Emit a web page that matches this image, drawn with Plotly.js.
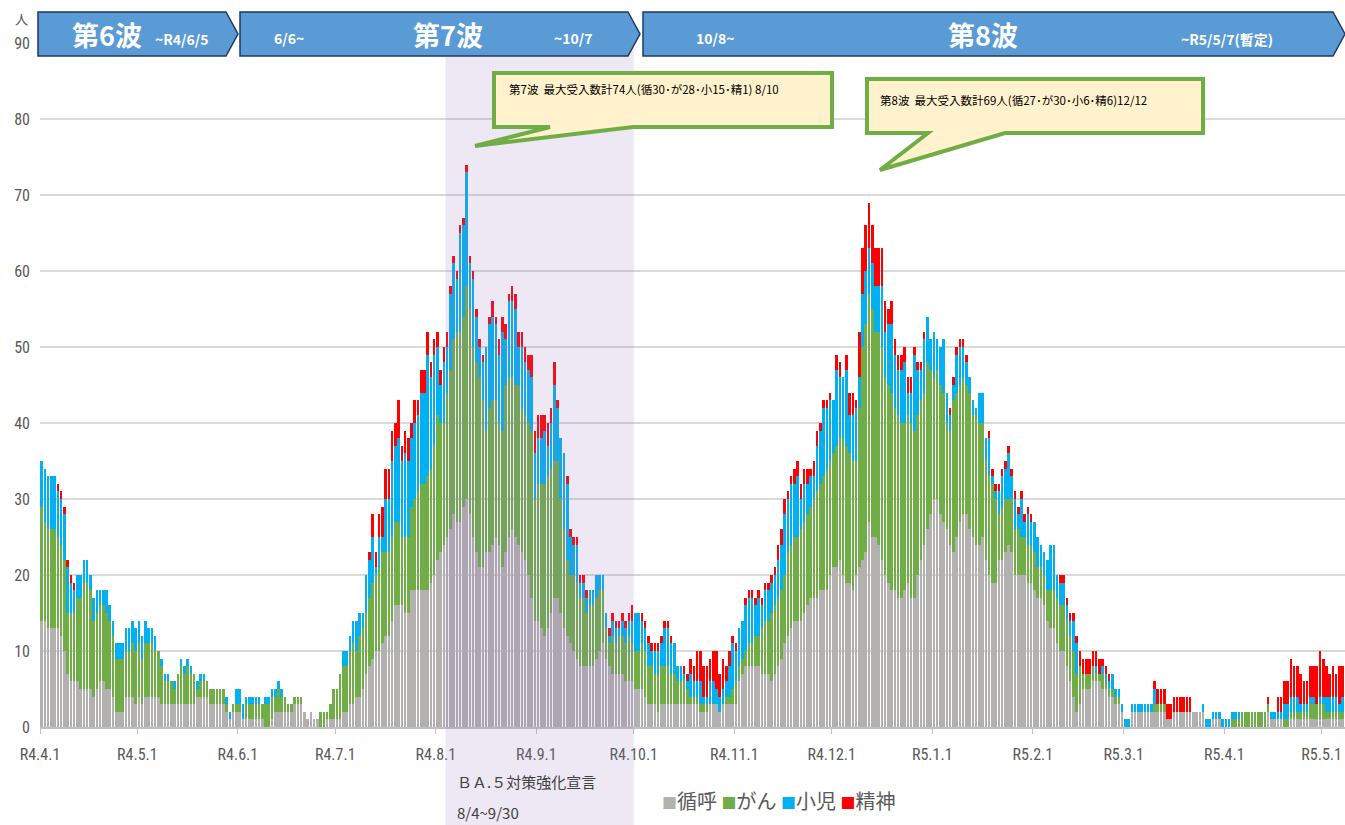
<!DOCTYPE html>
<html>
<head>
<meta charset="utf-8">
<script src="https://cdn.plot.ly/plotly-3.0.1.min.js"></script>
<style>
html,body{margin:0;padding:0;background:#fff;}
#chart{width:1345px;height:825px;}
</style>
</head>
<body>
<div id="chart"></div>
<script>
// ---------------- data ----------------
const startDate = '2022-04-01';

// 循呼
const junko = [
14,14,13,13,13,13,12,10,7,6,
6,6,5,5,5,5,4,5,6,6,
5,5,4,2,2,2,4,4,4,3,
4,3,4,4,4,4,4,3,3,3,
3,3,3,3,3,3,3,3,4,4,
4,4,3,3,3,3,3,2,1,2,
2,2,1,1,1,1,1,1,1,0,
0,1,2,2,2,2,2,2,3,3,
3,2,1,2,1,1,0,0,1,1,
1,1,1,2,2,3,3,4,4,5,
7,8,9,10,10,11,12,12,14,16,
16,16,15,15,18,18,18,18,18,18,
19,20,22,23,24,25,26,28,27,27,
29,30,28,25,23,21,21,23,23,24,
25,24,21,23,25,26,25,24,23,22,
20,17,14,14,13,12,13,15,17,17,
15,13,12,11,10,9,8,8,8,8,
8,9,10,11,9,8,7,7,7,7,
6,6,6,5,5,5,4,3,3,3,
2,3,3,3,3,3,3,3,3,3,
3,3,3,2,2,2,3,3,3,2,
3,3,3,3,3,6,7,8,8,8,
8,8,7,7,7,6,7,8,9,11,
12,13,14,14,14,15,16,17,17,17,
18,18,18,20,21,21,22,20,19,19,
18,20,21,22,23,27,25,25,24,22,
20,19,18,18,17,17,18,19,17,17,
20,22,24,26,28,30,30,28,27,26,
24,23,25,27,28,28,26,25,24,24,
25,22,20,19,19,22,22,23,24,23,
20,20,20,20,19,19,18,17,17,16,
14,13,13,11,10,10,8,6,4,2,
3,5,5,5,6,6,6,5,5,4,
4,3,3,2,0,0,2,2,2,2,
2,2,2,2,2,2,2,1,1,2,
2,2,2,2,2,2,2,2,2,0,
0,1,1,1,0,0,0,0,0,0,
0,0,0,0,0,0,0,0,2,1,
1,1,1,0,0,1,1,1,1,1,
1,1,1,1,1,1,1,1,1,1,
1,1];

// がん
const gan = [
15,13,13,13,13,12,12,12,8,9,
9,11,12,14,14,13,10,10,10,10,
10,9,8,7,7,7,6,6,7,7,
7,6,7,7,7,6,6,5,3,3,
3,2,4,5,4,5,4,4,1,2,
2,2,2,2,2,2,2,1,0,1,
1,1,0,2,2,2,2,2,2,3,
3,3,2,3,2,2,1,1,1,1,
1,0,0,0,0,0,2,2,1,2,
4,4,6,6,6,7,8,6,8,8,
8,9,10,10,11,12,11,11,11,11,
11,9,10,10,11,12,13,14,14,15,
15,17,19,17,16,19,21,23,25,25,
25,28,27,25,25,25,22,16,19,19,
18,16,18,22,21,20,20,21,19,19,
20,22,16,18,19,20,20,19,18,18,
15,13,10,9,10,10,9,9,7,8,
8,8,8,7,4,3,5,4,5,5,
5,6,5,5,5,6,6,5,5,4,
5,5,5,5,4,4,3,3,3,2,
1,1,1,1,1,1,0,0,0,0,
0,1,1,2,3,2,2,2,3,3,
4,4,6,7,7,9,9,9,9,9,
11,11,11,11,12,12,12,12,13,14,
14,15,16,15,15,16,16,18,18,17,
17,15,21,28,30,30,30,27,28,28,
26,26,26,24,24,23,22,22,23,22,
21,21,20,22,19,16,17,17,17,14,
15,20,19,18,18,17,18,16,17,16,
15,13,13,13,11,6,7,7,6,7,
6,6,5,5,5,5,5,4,4,4,
4,5,5,6,6,6,6,6,6,5,
5,2,2,2,2,1,1,2,1,1,
1,1,1,0,0,0,0,0,0,0,
0,0,0,1,1,1,1,0,0,0,
0,0,0,0,0,0,0,0,0,0,
0,0,0,0,0,0,0,1,1,1,
2,2,2,2,2,2,2,2,1,0,
0,0,0,1,1,1,1,1,1,1,
1,2,2,2,2,2,1,1,1,1,
1,1];

// 小児
const shoni = [
6,7,7,7,7,6,6,6,6,4,
3,3,3,3,3,2,3,3,2,2,
3,2,2,2,2,2,3,3,3,3,
3,3,3,2,2,2,0,1,1,1,
0,1,0,1,1,1,1,0,1,1,
1,0,0,0,0,0,0,1,1,0,
2,2,2,1,1,1,1,1,0,1,
1,1,1,1,1,0,0,0,0,0,
0,0,0,0,0,0,0,0,0,0,
0,0,0,2,2,2,3,4,3,2,
5,5,6,1,4,2,7,7,10,10,
11,10,11,10,9,10,10,12,12,16,
12,12,9,5,8,6,10,10,7,13,
12,15,6,9,6,4,5,11,11,11,
10,9,13,6,10,10,10,5,8,7,
7,7,6,6,6,7,4,6,10,7,
8,10,10,5,4,5,2,2,2,2,
2,3,2,2,2,1,2,2,1,2,
2,2,3,5,5,3,3,3,2,3,
3,3,5,5,4,4,2,2,1,1,
3,2,2,3,1,1,3,3,2,2,
2,2,4,6,4,5,5,6,6,6,
4,5,3,4,4,4,4,5,6,8,
7,8,7,8,4,5,4,4,3,6,
7,9,8,8,7,10,8,8,10,5,
6,7,4,7,7,6,6,6,6,8,
6,8,9,7,6,7,8,3,4,10,
6,4,7,6,4,6,4,5,7,4,
2,2,5,5,4,3,2,2,1,4,
4,3,5,1,1,3,4,4,6,3,
4,2,5,2,4,3,4,4,3,3,
4,6,6,3,3,3,2,2,4,4,
0,0,0,0,0,1,0,1,1,1,
2,1,1,1,1,1,1,1,1,1,
1,1,1,2,0,0,0,0,0,0,
0,0,0,0,0,0,0,0,1,1,
1,1,1,1,1,1,1,1,1,1,
0,0,0,0,0,0,0,0,0,1,
1,1,1,2,2,2,2,2,1,1,
1,1,1,0,1,1,2,2,2,2,
1,2];

// 精神
const seishin = [
0,0,0,0,0,1,1,1,1,1,
1,0,0,0,0,0,0,0,0,0,
0,0,0,0,0,0,0,0,0,0,
0,0,0,0,0,0,0,0,0,0,
0,0,0,0,0,0,0,0,0,0,
0,0,0,0,0,0,0,0,0,0,
0,0,0,0,0,0,0,0,0,0,
0,0,0,0,0,0,0,0,0,0,
0,0,0,0,0,0,0,0,0,0,
0,0,0,0,0,0,0,0,0,0,
0,1,3,2,3,4,4,4,4,3,
5,2,3,3,2,3,2,3,3,3,
2,2,2,2,2,2,1,1,1,1,
1,1,1,1,1,1,1,0,1,2,
1,2,2,2,1,2,2,2,2,2,
2,3,3,3,3,2,3,2,3,1,
0,0,1,1,1,1,1,1,1,0,
0,0,0,0,0,1,1,1,1,1,
1,1,2,0,0,1,1,1,1,1,
1,1,1,1,1,0,0,0,1,1,
2,2,4,4,4,4,3,4,5,3,
4,2,2,1,1,0,0,1,1,1,
1,1,1,1,1,1,1,2,2,2,
1,1,2,2,2,2,2,1,2,2,
1,1,1,1,0,2,2,0,2,3,
3,1,6,6,6,6,5,5,5,5,
4,2,3,2,2,2,2,2,2,1,
1,1,1,0,0,0,0,0,0,0,
1,1,1,1,1,1,0,0,0,0,
0,0,1,1,1,1,1,1,1,1,
1,1,1,1,1,1,0,0,0,0,
0,0,0,0,1,1,1,1,1,1,
2,2,2,2,2,2,2,1,1,1,
0,0,0,0,0,0,0,0,0,0,
0,0,0,1,2,2,2,2,2,2,
2,2,2,2,2,0,0,0,0,0,
0,0,0,0,0,0,0,0,0,0,
0,0,0,0,0,0,0,0,1,0,
0,2,2,3,3,5,4,4,4,3,
3,4,4,5,6,5,4,3,4,3,
5,4];

const seriesNames = ['循呼', 'がん', '小児', '精神'];
const seriesColors = ['#B3B0B0', '#70AD47', '#00B0F0', '#FF0000'];

const tickDates = ['2022-04-01','2022-05-01','2022-06-01','2022-07-01','2022-08-01','2022-09-01',
  '2022-10-01','2022-11-01','2022-12-01','2023-01-01','2023-02-01','2023-03-01','2023-04-01','2023-05-01'];
const tickLabels = ['R4.4.1','R4.5.1','R4.6.1','R4.7.1','R4.8.1','R4.9.1','R4.10.1','R4.11.1',
  'R4.12.1','R5.1.1','R5.2.1','R5.3.1','R5.4.1','R5.5.1'];
const yTicks = [0,10,20,30,40,50,60,70,80,90];

const declStart = '2022-08-04';
const declEnd = '2022-10-01';

const waveTexts = [
  ['第6波', '~R4/6/5'],
  ['6/6~', '第7波', '~10/7'],
  ['10/8~', '第8波', '~R5/5/7(暫定)']
];
const callout7 = '第7波  最大受入数計74人(循30･が28･小15･精1) 8/10';
const callout8 = '第8波  最大受入数計69人(循27･が30･小6･精6)12/12';

// ---------------- build ----------------
const t0 = Date.UTC(2022, 3, 1);
const dates = junko.map((_, i) => new Date(t0 + i * 86400000).toISOString().slice(0, 10));
const allSeries = [junko, gan, shoni, seishin];

const traces = allSeries.map((vals, k) => ({
  type: 'bar',
  x: dates,
  y: vals,
  name: seriesNames[k],
  marker: { color: seriesColors[k], line: { width: 0 } },
  xperiod: 86400000,
  xperiodalignment: 'middle',
  hoverinfo: 'skip'
}));

const W = 1345, H = 825, ML = 40, MR = 0, MT = 43, MB = 98;
const PW = W - ML - MR, PH = H - MT - MB;
const px = x => (x - ML) / PW;
const py = y => (H - MB - y) / PH;

const FONT_JP = '"Noto Sans CJK JP", "Noto Sans", sans-serif';
const FONT_NUM = '"Liberation Sans Narrow", "Roboto Condensed", "DejaVu Sans Condensed", "Noto Sans CJK JP", sans-serif';

function pathOf(points) {
  return 'M ' + points.map(p => px(p[0]).toFixed(5) + ' ' + py(p[1]).toFixed(5)).join(' L ') + ' Z';
}
function banner(x0, x1, y0, y1) {
  const ym = (y0 + y1) / 2;
  return {
    type: 'path', xref: 'paper', yref: 'paper', layer: 'above',
    path: pathOf([[x0, y0], [x1 - 12, y0], [x1, ym], [x1 - 12, y1], [x0, y1]]),
    fillcolor: '#5B9BD5', line: { color: '#1F3864', width: 1.5 }
  };
}
function callout(bx0, by0, bx1, by1, ax, bxp, tip) {
  return {
    type: 'path', xref: 'paper', yref: 'paper', layer: 'above',
    path: pathOf([[bx0, by0], [bx1, by0], [bx1, by1], [bxp, by1], tip, [ax, by1], [bx0, by1]]),
    fillcolor: '#FFF2CC', line: { color: '#70AD47', width: 4 }
  };
}

const shapes = [
  {
    type: 'rect', xref: 'x', yref: 'paper', layer: 'above',
    x0: declStart, x1: declEnd, y0: py(825), y1: py(40),
    fillcolor: 'rgba(150,120,190,0.17)', line: { width: 0 }
  },
  banner(38, 238, 12, 56),
  banner(240, 640, 12, 56),
  banner(643, 1345, 12, 56),
  callout(494, 73, 832, 127, 550, 633, [475, 146]),
  callout(867, 79, 1203, 133, 928, 1005, [880, 170])
];

function ann(text, x, y, size, color, opts) {
  return Object.assign({
    text: text, xref: 'paper', yref: 'paper', x: px(x), y: py(y),
    xanchor: 'center', yanchor: 'middle', showarrow: false,
    font: { family: FONT_JP, size: size, color: color }
  }, opts || {});
}

const annotations = [
  ann('人', 21, 19, 13, '#595959'),
  ann('<b>' + waveTexts[0][0] + '</b>', 107, 35, 27, '#FFFFFF'),
  ann('<b>' + waveTexts[0][1] + '</b>', 181, 39, 14, '#FFFFFF'),
  ann('<b>' + waveTexts[1][0] + '</b>', 289, 38, 14, '#FFFFFF'),
  ann('<b>' + waveTexts[1][1] + '</b>', 448, 35, 27, '#FFFFFF'),
  ann('<b>' + waveTexts[1][2] + '</b>', 573, 38, 14, '#FFFFFF'),
  ann('<b>' + waveTexts[2][0] + '</b>', 715, 38, 14, '#FFFFFF'),
  ann('<b>' + waveTexts[2][1] + '</b>', 983, 35, 27, '#FFFFFF'),
  ann('<b>' + waveTexts[2][2] + '</b>', 1227, 39, 14, '#FFFFFF'),
  ann(callout7, 507, 89, 11.5, '#000000', { xanchor: 'left' }),
  ann(callout8, 878, 100, 11.5, '#000000', { xanchor: 'left' }),
  ann('ＢＡ.５対策強化宣言', 455, 781, 15, '#404040', { xanchor: 'left' }),
  ann('8/4~9/30', 455, 812, 15, '#404040', { xanchor: 'left' }),
  ann(seriesNames.map((n, k) => '<span style="color:' + seriesColors[k] + ';font-size:15px">■</span>' + n).join(' '),
      779, 800, 20, '#595959')
];

const layout = {
  width: W, height: H,
  margin: { l: ML, r: MR, t: MT, b: MB, pad: 0 },
  paper_bgcolor: '#FFFFFF', plot_bgcolor: '#FFFFFF',
  barmode: 'stack', bargap: 0.22,
  showlegend: false,
  font: { family: FONT_NUM, color: '#595959' },
  xaxis: {
    type: 'date',
    range: [startDate, '2023-05-08 05:00'],
    tickmode: 'array', tickvals: tickDates, ticktext: tickLabels,
    ticks: 'outside', ticklen: 5, tickcolor: '#BFBFBF', tickwidth: 1,
    showline: true, linecolor: '#BFBFBF', linewidth: 1.5,
    showgrid: false, zeroline: false,
    tickfont: { family: FONT_NUM, size: 16, color: '#595959' },
    ticklabelstandoff: 7
  },
  yaxis: {
    range: [0, 90], tickmode: 'array', tickvals: yTicks,
    showgrid: true, gridcolor: '#D9D9D9', gridwidth: 1.5,
    zeroline: false, showline: false, ticks: '',
    tickfont: { family: FONT_NUM, size: 16, color: '#595959' },
    ticklabelstandoff: 9
  },
  shapes: shapes,
  annotations: annotations
};

Plotly.newPlot('chart', traces, layout, { displayModeBar: false, staticPlot: true });
</script>
</body>
</html>
